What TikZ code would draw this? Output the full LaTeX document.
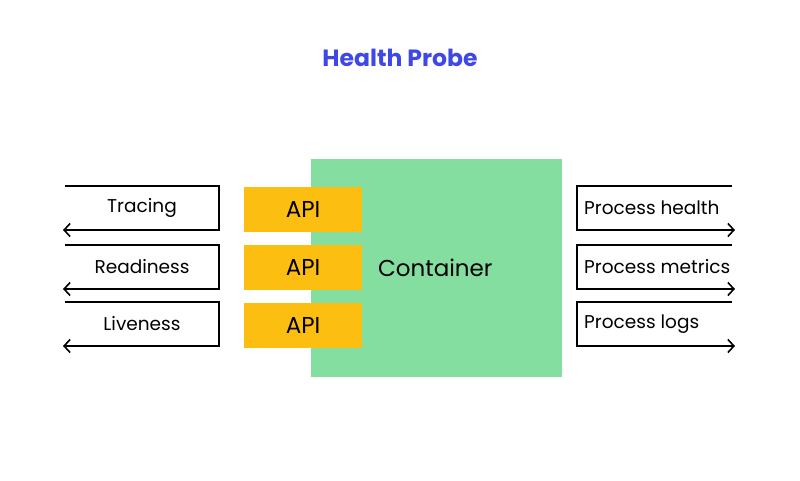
\documentclass[tikz,border=0pt]{standalone}
\usepackage{fontspec}
\setmainfont{Poppins}
\usetikzlibrary{arrows.meta}
\definecolor{cgreen}{HTML}{84DE9F}
\definecolor{cyellow}{HTML}{FDBE12}
\definecolor{cblue}{HTML}{3F47E6}
\begin{document}
\begin{tikzpicture}[x=1pt,y=-1pt,
  lbl/.style={font=\fontsize{18.5}{22}\selectfont, text=black, inner sep=0pt},
  apibox/.style={fill=cyellow, minimum width=118pt, minimum height=45pt, inner sep=0pt, font=\fontsize{23}{27}\selectfont},
  bracket/.style={line width=1.8pt, -{Straight Barb[length=6pt,width=13pt,line width=1.6pt]}},
]
\useasboundingbox (0,0) rectangle (800,480);
\node[font=\fontsize{23.5}{28}\selectfont\bfseries, text=cblue] (title) at (400,58) {Health Probe};
\node[fill=cgreen, minimum width=251pt, minimum height=218pt, inner sep=0pt] (cont) at (436.5,268) {};
\node[font=\fontsize{23}{27}\selectfont, anchor=west, inner sep=0pt] (ctext) at (378,268) {Container};
\node[apibox] (api1) at (303,209.5) {API};
\node[apibox] (api2) at (303,267) {API};
\node[apibox] (api3) at (303,325) {API};
% left brackets
\foreach \n/\t/\y in {l1/Tracing/186, l2/Readiness/245, l3/Liveness/302}{
  \coordinate (\n a) at (65,\y);
  \coordinate (\n b) at (219,\y);
  \coordinate (\n c) at (219,\y+44);
  \coordinate (\n d) at (63,\y+44);
  \draw[bracket] (\n a) -- (\n b) -- (\n c) -- (\n d);
  \node[lbl] (\n t) at (142,\y+22) {\t};
}
% right brackets
\foreach \n/\t/\y in {r1/Process health/186, r2/Process metrics/245, r3/Process logs/302}{
  \coordinate (\n a) at (732,\y);
  \coordinate (\n b) at (577,\y);
  \coordinate (\n c) at (577,\y+44);
  \coordinate (\n d) at (735,\y+44);
  \draw[bracket] (\n a) -- (\n b) -- (\n c) -- (\n d);
  \node[lbl, anchor=west] (\n t) at (584,\y+22) {\t};
}
\end{tikzpicture}
\end{document}
